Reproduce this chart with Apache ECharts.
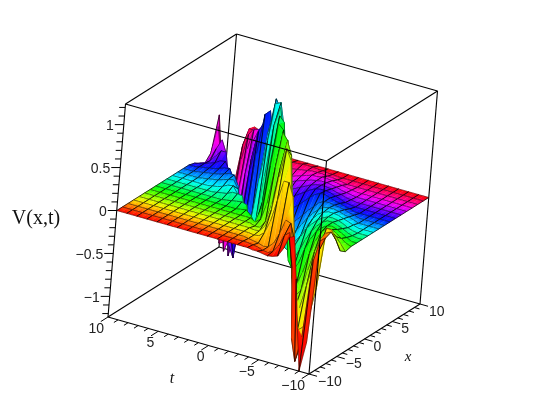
<!DOCTYPE html>
<html><head><meta charset="utf-8">
<style>html,body{margin:0;padding:0;background:#fff}#c{width:546px;height:410px}</style>
<script src="https://cdn.jsdelivr.net/npm/echarts@6/dist/echarts.min.js"></script>
</head><body><div id="c"></div>
<script>
const xValues=[-10,-9,-8,-7,-6,-5,-4,-3,-2,-1,0,1,2,3,4,5,6,7,8,9,10];
const tValues=[-10,-9.5,-9,-8.5,-8,-7.5,-7,-6.5,-6,-5.5,-5,-4.5,-4,-3.5,-3,-2.5,-2,-1.5,-1,-.5,0,.5,1,1.5,2,2.5,3,3.5,4,4.5,5,5.5,6,6.5,7,7.5,8,8.5,9,9.5,10];
const zTickLabels=[-1,-.5,0,.5,1];
const tTickLabels=[-10,-5,0,5,10];
const xTickLabels=[-10,-5,0,5,10];
const zMinorTicks=[-1.2,-1.1,-1,-.9,-.8,-.7,-.6,-.5,-.4,-.3,-.2,-.1,0,.1,.2,.3,.4,.5,.6,.7,.8,.9,1,1.1,1.2];
const axisMinorTicks=[-10,-9,-8,-7,-6,-5,-4,-3,-2,-1,0,1,2,3,4,5,6,7,8,9,10];
const zTable=[
[.2,-.9,-1.24,-.75,-.2,.28,.25,.1,0,-.02, -.03,-.02,-.01,-.01,0,0,0,0,0,0, 0,0,0,0,0,0,0,0,0,0, 0,0,0,0,0,0,0,0,0,0, 0],
[.3,.25,0,-.9,-1.2,-.95,-.15,.25,.2,.06, -.02,-.05,-.04,-.02,-.01,0,0,0,0,0, 0,0,0,0,0,0,0,0,0,0, 0,0,0,0,0,0,0,0,0,0, 0],
[.33,.3,.1,-.55,-1,-1.12,-.8,-.02,.3,.32, .15,.02,-.04,-.05,-.03,-.02,-.01,0,0,0, 0,0,0,0,0,0,0,0,0,0, 0,0,0,0,0,0,0,0,0,0, 0],
[.2,.3,.3,-.4,-.75,-.9,-.95,-.55,.05,.55, .7,.7,.45,.2,.05,0,-.01,0,0,0, 0,0,0,0,0,0,0,0,0,0, 0,0,0,0,0,0,0,0,0,0, 0],
[.03,.14,.22,.18,.02,-.2,-.48,-.75,-.8,-.4, .3,.9,1.02,.68,.28,.07,0,-.01,0,0, 0,0,0,0,0,0,0,0,0,0, 0,0,0,0,0,0,0,0,0,0, 0],
[-.02,.05,.12,.17,.15,.05,-.12,-.35,-.6,-.68, -.3,.3,.9,1.05,.72,.3,.07,-.02,-.02,0, 0,0,0,0,0,0,0,0,0,0, 0,0,0,0,0,0,0,0,0,0, 0],
[0,.02,.06,.1,.13,.13,.07,-.05,-.22,-.45, -.6,-.55,-.1,.5,1,1.07,.65,.22,.02,-.03, 0,0,0,0,0,0,0,0,0,0, 0,0,0,0,0,0,0,0,0,0, 0],
[0,0,.03,.06,.09,.11,.1,.06,0,-.1, -.24,-.42,-.52,-.42,0,.6,1.05,1.1,.6,.08, -.12,-.03,.02,.01,0,0,0,0,0,0, 0,0,0,0,0,0,0,0,0,0, 0],
[0,0,.01,.03,.06,.08,.1,.1,.07,.01, -.07,-.18,-.32,-.44,-.46,-.1,.55,1.08,1.14,.62, .1,-.2,-.25,.02,.04,.03,.02,.01,0,0, 0,0,0,0,0,0,0,0,0,0, 0],
[0,0,0,.01,.03,.06,.08,.09,.09,.06, .02,-.04,-.11,-.22,-.34,-.43,-.4,.2,.9,1.18, .95,.35,-.2,-.42,-.2,.05,.06,.06,.03,.02, .01,0,0,0,0,0,0,0,0,0, 0],
[0,0,0,0,.02,.04,.06,.08,.09,.09, .07,.03,-.04,-.14,-.26,-.35,-.38,-.18,.3,.9, 1.18,1.15,.7,.25,-.25,-.58,-.45,0,.08,.07, .04,.02,.01,0,0,0,0,0,0,0, 0],
[0,0,0,0,0,.02,.04,.05,.07,.08, .08,.07,.03,-.03,-.1,-.19,-.28,-.33,-.3,.05, .6,1.05,1.15,.75,.2,-.35,-.62,-.45,0,.09, .08,.06,.04,.03,.02,.01,0,0,0,0, 0],
[0,0,0,0,0,0,.02,.03,.05,.06, .07,.08,.08,.05,-.01,-.07,-.14,-.21,-.27,-.28, -.12,.4,.88,1.02,.72,.15,-.4,-.66,-.5,-.03, .09,.09,.07,.05,.04,.03,.02,.01,0,0, 0],
[0,0,0,0,0,0,0,0,.02,.03, .05,.06,.08,.1,.1,.07,.02,-.04,-.1,-.15, -.2,-.24,-.24,.05,.55,.88,.82,.35,-.3,-.74, -.55,-.02,.09,.08,.06,.04,.03,.02,.01,0, 0],
[0,0,0,0,0,0,0,0,0,.01, .02,.04,.06,.08,.09,.09,.08,.05,.01,-.03, -.07,-.11,-.15,-.18,-.17,.05,.45,.68,.55,.1, -.55,-.9,-.6,0,.1,.09,.05,.03,.01,-.01, -.02],
[0,0,0,0,0,0,0,0,0,0, .01,.02,.04,.05,.07,.08,.08,.07,.05,.02, -.01,-.04,-.07,-.1,-.12,-.13,-.05,.3,.52,.52, .15,-.45,-1.03,-.9,-.2,.15,.15,.07,0,-.04, -.06],
[0,0,0,0,0,0,0,0,0,0, 0,.01,.02,.03,.05,.06,.07,.07,.06,.05, .03,.01,-.01,-.04,-.06,-.08,-.09,-.05,.2,.4, .45,.3,-.1,-.7,-1.08,-.55,.08,.22,.1,-.03, -.1],
[0,0,0,0,0,0,0,0,0,0, 0,0,.01,.02,.03,.04,.05,.06,.06,.05, .05,.03,.01,-.01,-.03,-.05,-.06,-.07,-.04,.12, .32,.4,.38,.14,-.35,-.92,-1.1,-.7,-.05,.3, -.02],
[0,0,0,0,0,0,0,0,0,0, 0,0,0,0,0,.01,.02,.03,.03,.04, .04,.04,.03,.02,.01,0,-.01,-.02,-.03,-.02, .05,.18,.3,.34,.25,-.05,-.55,-1.05,-1.08,-.35, .38],
[0,0,0,0,0,0,0,0,0,0, 0,0,0,0,0,0,0,0,.01,.01, .02,.02,.03,.03,.03,.02,.02,.01,.01,0, .01,.07,.15,.22,.26,.26,.05,-.4,-.85,-1.05, -.15],
[0,0,0,0,0,0,0,0,0,0, 0,0,0,0,0,0,0,0,0,0, 0,0,0,0,0,0,0,0,0,.01, .02,.06,.12,.18,.22,.24,.19,-.28,-.72,-1, -.95]
];

// axonometric placement of the plot box on the page
const zExtent=1.24;
const origin=[309,374], tVec=[-201,-57], xVec=[111,-70], zVec=[17.5,-213];
function project(x,t,z){
  const a=(t+10)/20,b=(x+10)/20,c=(z+zExtent)/(2*zExtent);
  return [origin[0]+a*tVec[0]+b*xVec[0]+c*zVec[0],origin[1]+a*tVec[1]+b*xVec[1]+c*zVec[1]];
}
function hue(x){return 'hsl('+(((x+10)/20*360)%360).toFixed(1)+',100%,50%)';}

const cells=[];
for(let i=xValues.length-2;i>=0;i--)for(let j=tValues.length-2;j>=0;j--)cells.push([i,j]);

function seg(a,b,w,c){return {type:'line',shape:{x1:a[0],y1:a[1],x2:b[0],y2:b[1]},style:{stroke:c||'#000',lineWidth:w},silent:true};}

function surfaceItem(params,api){
  const i=api.value(0),j=api.value(1);
  const P=(a,b)=>api.coord(project(xValues[a],tValues[b],zTable[a][b]));
  const A=P(i,j),B=P(i+1,j),C=P(i+1,j+1),D=P(i,j+1);
  const c0=hue(xValues[i]),c1=hue(xValues[i+1]===10?9.999:xValues[i+1]);
  const m=hue((xValues[i]+xValues[i+1])/2);
  const children=[{type:'polygon',shape:{points:[A,B,C,D]},silent:true,style:{
    fill:{type:'linear',x:(A[0]+D[0])/2,y:(A[1]+D[1])/2,x2:(B[0]+C[0])/2,y2:(B[1]+C[1])/2,global:true,
      colorStops:[{offset:0,color:c0},{offset:1,color:c1}]},stroke:m,lineWidth:.4}}];
  const lc='rgba(0,0,0,.6)', tc='rgba(0,0,0,.75)';
  children.push(seg(A,D,.7,lc));
  children.push(seg(B,C,.7,lc));
  if(j%2===0)children.push(seg(A,B,1,tc));
  if((j+1)%2===0)children.push(seg(D,C,1,tc));
  return {type:'group',children};
}

const X0=-10,X1=10;
const backEdges=[[[X0,X1,-zExtent],[X1,X1,-zExtent]],[[X1,X1,-zExtent],[X1,X0,-zExtent]],[[X1,X1,-zExtent],[X1,X1,zExtent]],
  [[X1,X1,zExtent],[X0,X1,zExtent]],[[X1,X1,zExtent],[X1,X0,zExtent]],[[X1,X0,-zExtent],[X1,X0,zExtent]]];
const frontEdges=[[[X0,X1,zExtent],[X0,X0,zExtent]],[[X0,X0,zExtent],[X1,X0,zExtent]],[[X0,X0,-zExtent],[X0,X0,zExtent]],
  [[X0,X1,-zExtent],[X0,X1,zExtent]],[[X0,X1,-zExtent],[X0,X0,-zExtent]],[[X0,X0,-zExtent],[X1,X0,-zExtent]]];
function edgeSeries(list,z){
  return {type:'custom',coordinateSystem:'cartesian2d',z,silent:true,clip:false,animation:false,
    data:list.map((e,k)=>[k,0]),
    renderItem(p,api){const e=list[api.value(0)];
      return seg(api.coord(project(e[0][0],e[0][1],e[0][2])),api.coord(project(e[1][0],e[1][1],e[1][2])),1.1);}};
}

const decor=[];
zMinorTicks.forEach(v=>decor.push(['z',v]));
axisMinorTicks.forEach(v=>{decor.push(['t',v]);decor.push(['x',v]);});
function decorItem(params,api){
  const d=decor[params.dataIndex],v=d[1],major=Math.abs(v*2-Math.round(v*2))<1e-6&&(d[0]==='z'||v%5===0);
  if(d[0]==='z'){const a=api.coord(project(-10,10,v));const L=major?9:6;return seg(a,[a[0]-L,a[1]],1);}
  if(d[0]==='t'){const a=api.coord(project(-10,v,-zExtent));const k=major?1.3:.75;return seg(a,[a[0]-5.55*k,a[1]+3.5*k],1);}
  const a=api.coord(project(v,-10,-zExtent));const k=major?.8:.5;return seg(a,[a[0]+10.05*k,a[1]+2.85*k],1);
}
function fmt(v){return (v<0?'\u2212':'')+Math.abs(v);}
const labels=[];
zTickLabels.forEach(v=>labels.push({text:fmt(v),kind:'z',v}));
tTickLabels.forEach(v=>labels.push({text:fmt(v),kind:'t',v}));
xTickLabels.forEach(v=>labels.push({text:fmt(v),kind:'x',v}));
const nameLabels=[{text:'V(x,t)',pos:[36,219],font:'20px "Liberation Serif"'},{text:'t',pos:[172,379],font:'italic 16px "Liberation Serif"'},{text:'x',pos:[408,357],font:'italic 15px "Liberation Serif"'}];
const numFont='14px "Liberation Sans"';
function labelItem(params,api){
  const l=labels[params.dataIndex];let p,align,dx,dy;
  if(l.kind==='z'){p=project(-10,10,l.v);align='right';dx=-10;dy=2;}
  else if(l.kind==='t'){p=project(-10,l.v,-zExtent);align='right';dx=-4;dy=12;}
  else{p=project(l.v,-10,-zExtent);align='left';dx=9;dy=8;}
  const c=api.coord(p);
  return {type:'text',silent:true,style:{x:c[0]+dx,y:c[1]+dy,text:l.text,font:numFont,fill:'#222',textAlign:align,textVerticalAlign:'middle'}};
}

const chart=echarts.init(document.getElementById('c'),null,{renderer:'canvas'});
chart.setOption({
  animation:false,backgroundColor:'#fff',
  grid:{left:0,right:0,top:0,bottom:0},
  xAxis:{type:'value',min:0,max:546,show:false},
  yAxis:{type:'value',min:0,max:410,inverse:true,show:false},
  series:[
    edgeSeries(backEdges,1),
    {type:'custom',coordinateSystem:'cartesian2d',z:2,silent:true,clip:false,animation:false,progressive:0,data:cells,renderItem:surfaceItem},
    edgeSeries(frontEdges,3),
    {type:'custom',coordinateSystem:'cartesian2d',z:3,silent:true,clip:false,animation:false,data:decor.map((d,k)=>[k,0]),renderItem:decorItem},
    {type:'custom',coordinateSystem:'cartesian2d',z:4,silent:true,clip:false,animation:false,data:labels.map((d,k)=>[k,0]),renderItem:labelItem},
    {type:'custom',coordinateSystem:'cartesian2d',z:4,silent:true,clip:false,animation:false,data:nameLabels.map((d,k)=>[k,0]),
     renderItem(p,api){const l=nameLabels[p.dataIndex];const c=api.coord(l.pos);
       return {type:'text',silent:true,style:{x:c[0],y:c[1],text:l.text,font:l.font,fill:'#111',textAlign:'center',textVerticalAlign:'middle'}};}}
  ]
});
</script></body></html>
